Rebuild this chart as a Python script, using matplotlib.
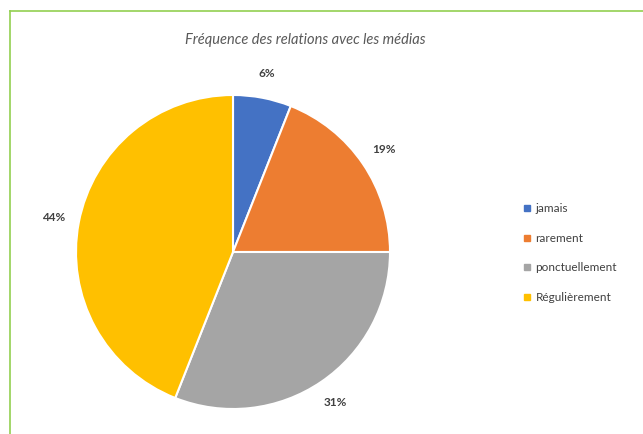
import matplotlib
matplotlib.use("Agg")
import matplotlib.pyplot as plt
from matplotlib.lines import Line2D

categories = ["jamais", "rarement", "ponctuellement", "Régulièrement"]
values = [6, 19, 31, 44]
colors = ["#4472C4", "#ED7D31", "#A5A5A5", "#FFC000"]

plt.rcParams["font.family"] = ["Lato", "DejaVu Sans"]

W, H = 643, 434
fig = plt.figure(figsize=(W / 100, H / 100), dpi=100)

# cadre vert (bord gauche et haut)
fig.add_artist(Line2D([10 / W, 10 / W], [0, 1 - 11 / H], color="#92D050", lw=1.2))
fig.add_artist(Line2D([10 / W, 1], [1 - 11 / H, 1 - 11 / H], color="#92D050", lw=1.2))

ax = fig.add_axes([76 / W, 25 / H, 314 / W, 314 / H])
wedges, texts, autotexts = ax.pie(
    values, colors=colors, startangle=90, counterclock=False,
    autopct="%1.0f%%", pctdistance=1.16,
    wedgeprops=dict(edgecolor="white", linewidth=1.5),
    textprops=dict(fontsize=8.5, color="#404040", fontweight="bold"),
)
ax.set_xlim(-1, 1)
ax.set_ylim(-1, 1)
ax.set_aspect("equal")

fig.text(305 / W, 1 - 40 / H, "Fréquence des relations avec les médias",
         ha="center", va="center", fontsize=10.5, style="italic", color="#595959")

handles = [Line2D([0], [0], marker="s", linestyle="", markersize=4,
                  markerfacecolor=c, markeredgecolor=c) for c in colors]
fig.legend(handles, categories, loc="center left", bbox_to_anchor=(512 / W, 1 - 253 / H),
           frameon=False, fontsize=8.5, labelspacing=1.58, handletextpad=0.3,
           handlelength=0.8, labelcolor="#404040")

plt.savefig("out.png", dpi=100)
